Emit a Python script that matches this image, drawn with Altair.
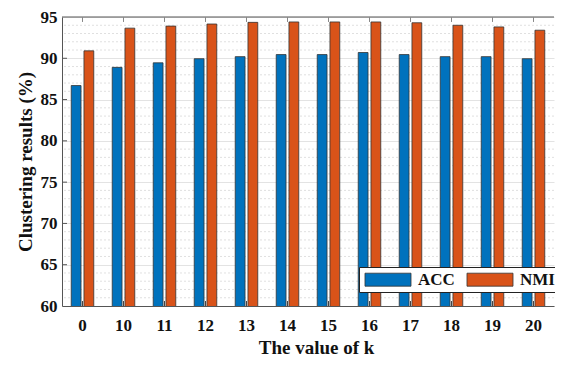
import altair as alt
import pandas as pd

k_values = ["0", "10", "11", "12", "13", "14", "15", "16", "17", "18", "19", "20"]
acc = [86.7, 88.9, 89.45, 89.95, 90.2, 90.45, 90.45, 90.7, 90.45, 90.2, 90.2, 89.95]
nmi = [90.9, 93.65, 93.9, 94.15, 94.35, 94.4, 94.4, 94.4, 94.3, 94.0, 93.8, 93.4]
series = ["ACC", "NMI"]
colors = ["#0072BD", "#D95319"]
major_ticks = [60, 65, 70, 75, 80, 85, 90, 95]
minor_ticks = [v for v in range(61, 95) if v % 5 != 0]

rows = []
for i, k in enumerate(k_values):
    rows.append({"k": k, "metric": "ACC", "value": acc[i]})
    rows.append({"k": k, "metric": "NMI", "value": nmi[i]})
df = pd.DataFrame(rows)
cat_df = pd.DataFrame({"k": k_values, "top": [95] * len(k_values), "top2": [94.4] * len(k_values),
                       "bot": [60] * len(k_values), "bot2": [60.6] * len(k_values)})
minor_df = pd.DataFrame({"y": minor_ticks})
major_df = pd.DataFrame({"y": major_ticks[1:-1]})
border_df = pd.DataFrame({"y": [95]})

FONT = "Liberation Serif"

x_scale = alt.Scale(domain=k_values, paddingInner=0.45, paddingOuter=0.225)
y_scale = alt.Scale(domain=[60, 95], nice=False, zero=False)

minor = alt.Chart(minor_df).mark_rule(color="#d8d8d8", strokeDash=[2, 2], strokeWidth=0.8).encode(
    y=alt.Y("y:Q", scale=y_scale)
)

bars = alt.Chart(df).mark_bar(stroke="#333333", strokeWidth=0.8, clip=True).encode(
    x=alt.X("k:N", scale=x_scale, sort=k_values,
            axis=alt.Axis(title="The value of k", labelAngle=0, tickSize=0, labelPadding=11,
                          titlePadding=5, titleX=254)),
    xOffset=alt.XOffset("metric:N", sort=series,
                        scale=alt.Scale(domain=series, paddingInner=0.23, paddingOuter=0)),
    y=alt.Y("value:Q", scale=y_scale,
            axis=alt.Axis(title="Clustering results (%)", values=major_ticks, tickSize=0,
                          labelPadding=5, titlePadding=5, grid=True)),
    color=alt.Color("metric:N", sort=series,
                    scale=alt.Scale(domain=series, range=colors),
                    legend=alt.Legend(title=None, orient="none", direction="horizontal",
                                      legendX=297, legendY=250,
                                      symbolType="M-3.54,-1L3.54,-1L3.54,1L-3.54,1Z",
                                      symbolSize=169, symbolOffset=16.5,
                                      symbolStrokeColor="#333333",
                                      symbolStrokeWidth=0.8, symbolOpacity=1,
                                      labelOffset=21.5, columnPadding=10, padding=4,
                                      fillColor="white", strokeColor="#222222",
                                      labelFont=FONT, labelFontSize=17, labelFontWeight="bold",
                                      labelColor="#111111")),
)

top_border = alt.Chart(border_df).mark_rule(color="#555555", strokeWidth=1).encode(
    y=alt.Y("y:Q", scale=y_scale)
)
top_ticks = alt.Chart(cat_df).mark_rule(color="#888888", strokeWidth=1).encode(
    x=alt.X("k:N", scale=x_scale, sort=k_values),
    y=alt.Y("top:Q", scale=y_scale),
    y2="top2:Q",
)
bot_ticks = alt.Chart(cat_df).mark_rule(color="#444444", strokeWidth=1).encode(
    x=alt.X("k:N", scale=x_scale, sort=k_values),
    y=alt.Y("bot:Q", scale=y_scale),
    y2="bot2:Q",
)
left_ticks = alt.Chart(major_df).mark_rule(color="#555555", strokeWidth=1).encode(
    x=alt.value(0), x2=alt.value(5),
    y=alt.Y("y:Q", scale=y_scale),
)

chart = alt.layer(minor, bars, top_border, top_ticks, bot_ticks, left_ticks).properties(
    width=492, height=289,
    background="white",
    autosize=alt.AutoSizeParams(type="none"),
    padding={"left": 54, "top": 9, "right": 1, "bottom": 51},
).configure_view(
    stroke=None
).configure_axis(
    labelFont=FONT, labelFontSize=17, labelFontWeight="bold", labelColor="#111111",
    titleFont=FONT, titleFontSize=19, titleFontWeight="bold", titleColor="#111111",
    domainColor="#555555", domainWidth=1,
    gridColor="#e3e3e3", gridWidth=1,
)

chart.save("out.html", embed_options={"renderer": "svg", "actions": False})
